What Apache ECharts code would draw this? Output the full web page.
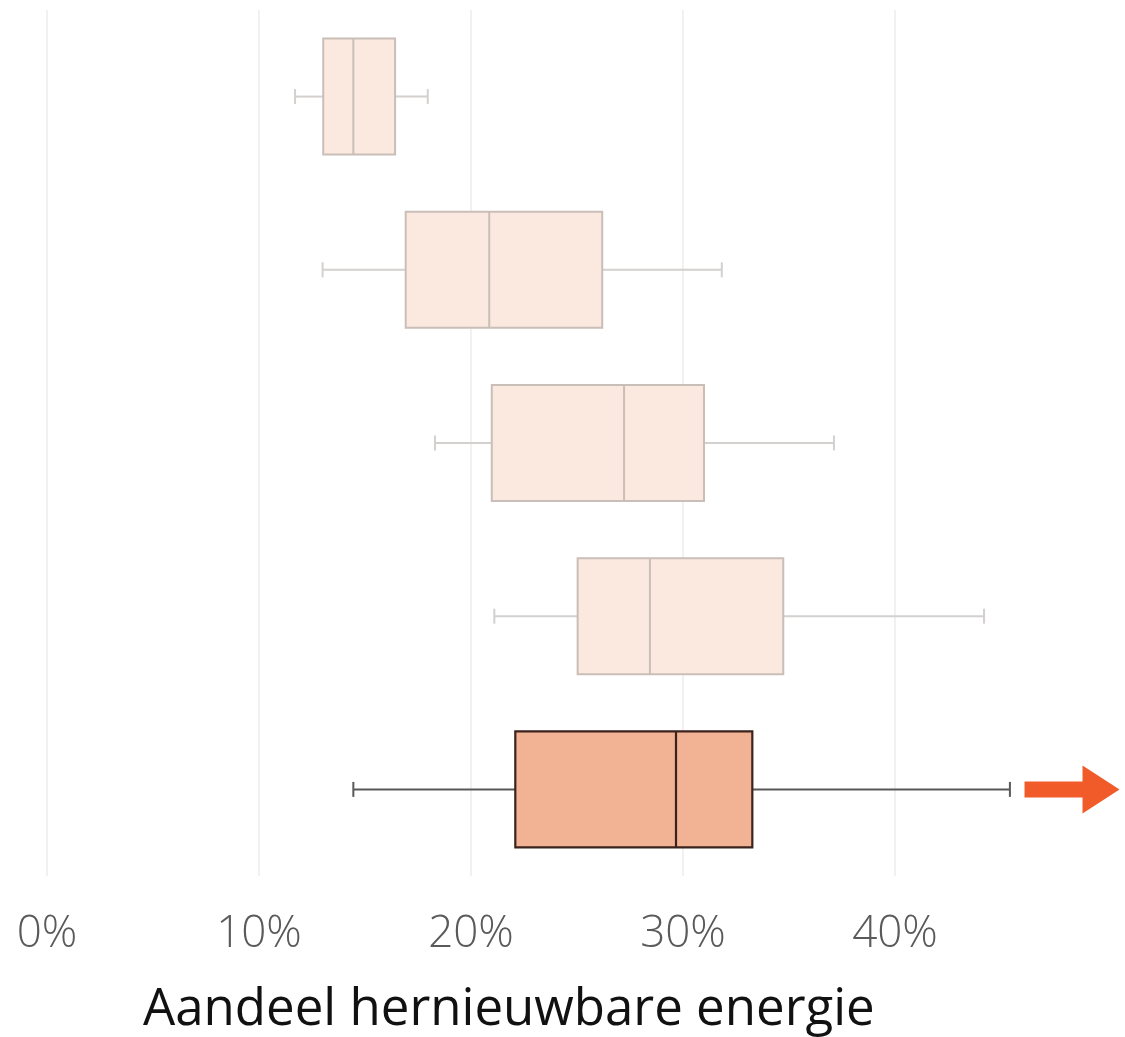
<!DOCTYPE html>
<html>
<head>
<meta charset="utf-8">
<script src="https://cdn.jsdelivr.net/npm/echarts@6/dist/echarts.min.js"></script>
<style>
html,body{margin:0;padding:0;background:#fff;}
#c{width:1125px;height:1037px;}
</style>
</head>
<body>
<div id="c"></div>
<script>
// Data (percent)
const categories = ['1', '2', '3', '4', '5'];
const whiskerLow = [11.7, 13.0, 18.3, 21.1, 14.45];
const q1 = [13.03, 16.92, 20.98, 25.03, 22.09];
const median = [14.45, 20.86, 27.22, 28.44, 29.67];
const q3 = [16.42, 26.19, 30.99, 34.73, 33.27];
const whiskerHigh = [17.96, 31.83, 37.12, 44.2, 45.42];
const tickValues = [0, 10, 20, 30, 40];
const arrowPoint = [48.35, '5'];
const axisTitle = 'Aandeel hernieuwbare energie';

const highlightIndex = 4;
const boxRows = categories.map((c, i) => [i, whiskerLow[i], q1[i], median[i], q3[i], whiskerHigh[i]]);

const styles = {
  normal: { fill: '#fbe9df', border: '#c9beb8', borderW: 2, whisker: '#d3d0ce', whiskerW: 2 },
  highlight: { fill: '#f2b394', border: '#3b221c', borderW: 2.2, whisker: '#595959', whiskerW: 2 }
};

function renderBox(params, api) {
  const idx = api.value(0);
  const st = idx === highlightIndex ? styles.highlight : styles.normal;
  const pLow = api.coord([api.value(1), idx]);
  const pQ1 = api.coord([api.value(2), idx]);
  const pMed = api.coord([api.value(3), idx]);
  const pQ3 = api.coord([api.value(4), idx]);
  const pHigh = api.coord([api.value(5), idx]);
  const cy = pLow[1];
  const boxH = 116;
  const capH = 15;
  const wStyle = { stroke: st.whisker, lineWidth: st.whiskerW };
  return {
    type: 'group',
    children: [
      { type: 'line', shape: { x1: pLow[0], y1: cy, x2: pQ1[0], y2: cy }, style: wStyle },
      { type: 'line', shape: { x1: pQ3[0], y1: cy, x2: pHigh[0], y2: cy }, style: wStyle },
      { type: 'line', shape: { x1: pLow[0], y1: cy - capH / 2, x2: pLow[0], y2: cy + capH / 2 }, style: wStyle },
      { type: 'line', shape: { x1: pHigh[0], y1: cy - capH / 2, x2: pHigh[0], y2: cy + capH / 2 }, style: wStyle },
      { type: 'rect', shape: { x: pQ1[0], y: cy - boxH / 2, width: pQ3[0] - pQ1[0], height: boxH },
        style: { fill: st.fill, stroke: st.border, lineWidth: st.borderW } },
      { type: 'line', shape: { x1: pMed[0], y1: cy - boxH / 2, x2: pMed[0], y2: cy + boxH / 2 },
        style: { stroke: st.border, lineWidth: st.borderW } }
    ]
  };
}

const chart = echarts.init(document.getElementById('c'), null, { renderer: 'canvas' });
chart.setOption({
  backgroundColor: '#ffffff',
  animation: false,
  grid: { left: 47, right: 18, top: 10, bottom: 161, containLabel: false },
  xAxis: {
    type: 'value',
    min: 0,
    max: 50,
    interval: 10,
    axisLine: { show: false },
    axisTick: { show: false },
    splitLine: {
      show: true,
      lineStyle: { color: ['#ececec', '#ececec', '#ececec', '#ececec', '#ececec', 'rgba(0,0,0,0)'], width: 1.5 }
    },
    axisLabel: {
      margin: 36,
      fontFamily: 'Open Sans',
      fontWeight: 300,
      fontSize: 44,
      color: '#5a5a5a',
      formatter: v => tickValues.includes(v) ? v + '%' : ''
    }
  },
  yAxis: {
    type: 'category',
    data: categories,
    inverse: true,
    axisLine: { show: false },
    axisTick: { show: false },
    axisLabel: { show: false },
    splitLine: { show: false }
  },
  series: [
    {
      type: 'custom',
      data: boxRows,
      encode: { x: [1, 2, 3, 4, 5], y: 0 },
      renderItem: renderBox,
      silent: true
    },
    {
      type: 'scatter',
      data: [arrowPoint],
      symbol: 'path://M0,16 L58,16 L58,0 L95,24 L58,48 L58,32 L0,32 Z',
      symbolSize: [95, 48],
      itemStyle: { color: '#f15a29', opacity: 1 },
      clip: false,
      silent: true
    }
  ],
  graphic: [
    {
      type: 'text',
      left: 143,
      top: 985,
      style: {
        text: axisTitle,
        font: '400 51px "Open Sans"',
        fill: '#111111'
      }
    }
  ]
});
</script>
</body>
</html>
